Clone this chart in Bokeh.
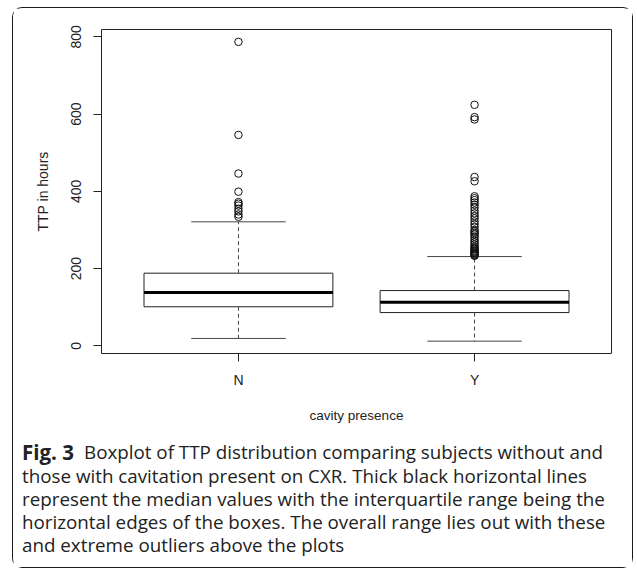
from bokeh.plotting import figure
from bokeh.models import Range1d, FixedTicker
from bokeh.core.properties import value
from bokeh.embed import file_html
from bokeh.resources import INLINE

# ---- data ----
categories = ["N", "Y"]
lower_whisker = [19, 12]
q1 = [101, 86]
median = [138, 113]
q3 = [188, 143]
upper_whisker = [321, 231]
outliers_N = [787, 546, 446, 399, 372, 368, 363, 355, 348, 340, 334]
outliers_Y = [624, 592, 586, 437, 426, 387, 382, 377, 371, 365, 358, 350, 343,
              336, 330, 322, 315, 308, 300, 296, 292, 288, 283, 278, 272, 268,
              263, 258, 255, 252, 249, 246, 244, 242, 240, 238, 236, 234, 233]
y_ticks = [0, 200, 400, 600, 800]
caption_bold = "Fig. 3"
caption_lines = [
    "Boxplot of TTP distribution comparing subjects without and",
    "those with cavitation present on CXR. Thick black horizontal lines",
    "represent the median values with the interquartile range being the",
    "horizontal edges of the boxes. The overall range lies out with these",
    "and extreme outliers above the plots",
]

W = 621
H1 = 420
H2 = 141
col = "#222222"
font = "Liberation Sans"
border = "1.5px solid #1a1a1a"

p = figure(width=W, height=H1, output_backend="svg", toolbar_location=None,
           x_range=Range1d(0.42, 2.58), y_range=Range1d(-20, 819),
           min_border_left=88, min_border_right=23, min_border_top=21,
           min_border_bottom=75)
p.styles = {"margin-left": "12px", "margin-top": "7px", "border": border,
            "border-bottom": "0px", "border-radius": "10px 10px 0 0"}
p.background_fill_color = "white"
p.border_fill_color = "white"
p.outline_line_color = col
p.outline_line_width = 1
p.xgrid.visible = False
p.ygrid.visible = False

xs = [i + 1 for i in range(len(categories))]
half = 0.4
staple = 0.2

p.quad(left=[x - half for x in xs], right=[x + half for x in xs], bottom=q1, top=q3,
       fill_color="white", line_color=col, line_width=1)
p.segment(x0=[x - half for x in xs], x1=[x + half for x in xs], y0=median, y1=median,
          line_color="black", line_width=3)
p.segment(x0=xs, x1=xs, y0=q3, y1=upper_whisker, line_color="#444444", line_width=1,
          line_dash="4 3")
p.segment(x0=xs, x1=xs, y0=q1, y1=lower_whisker, line_color="#444444", line_width=1,
          line_dash="4 3")
p.segment(x0=[x - staple for x in xs], x1=[x + staple for x in xs], y0=upper_whisker,
          y1=upper_whisker, line_color="#444444", line_width=1)
p.segment(x0=[x - staple for x in xs], x1=[x + staple for x in xs], y0=lower_whisker,
          y1=lower_whisker, line_color="#444444", line_width=1)
p.scatter(x=[xs[0]] * len(outliers_N), y=outliers_N, marker="circle", size=7.5,
          fill_color=None, line_color="#111111", line_width=1)
p.scatter(x=[xs[1]] * len(outliers_Y), y=outliers_Y, marker="circle", size=7.5,
          fill_color=None, line_color="#111111", line_width=1)

# y axis
ya = p.yaxis[0]
ya.ticker = FixedTicker(ticks=y_ticks)
ya.minor_tick_line_color = None
ya.major_tick_in = 0
ya.major_tick_out = 8
ya.major_tick_line_color = col
ya.axis_line_color = None
ya.major_label_orientation = "vertical"
ya.major_label_text_font = font
ya.major_label_text_font_size = "14px"
ya.major_label_text_color = col
ya.major_label_standoff = 12
ya.axis_label = "TTP in hours"
ya.axis_label_text_font = font
ya.axis_label_text_font_style = "normal"
ya.axis_label_text_font_size = "14px"
ya.axis_label_text_color = col
ya.axis_label_standoff = 18

# x axis
xa = p.xaxis[0]
xa.ticker = FixedTicker(ticks=xs)
xa.major_label_overrides = {x: c for x, c in zip(xs, categories)}
xa.minor_tick_line_color = None
xa.major_tick_in = 0
xa.major_tick_out = 8
xa.major_tick_line_color = col
xa.axis_line_color = None
xa.major_label_text_font = font
xa.major_label_text_font_size = "14px"
xa.major_label_text_color = col
xa.major_label_standoff = 10
xa.axis_label = "cavity presence"
xa.axis_label_text_font = font
xa.axis_label_text_font_style = "normal"
xa.axis_label_text_font_size = "13.5px"
xa.axis_label_text_color = col
xa.axis_label_standoff = 17

# caption panel (separate root, so its frame is not aligned with the chart's)
c = figure(width=W, height=H2, output_backend="svg", toolbar_location=None,
           x_range=Range1d(0, W), y_range=Range1d(H2, 0),
           x_axis_location=None, y_axis_location=None,
           min_border_left=0, min_border_right=0, min_border_top=0, min_border_bottom=0)
c.styles = {"margin-left": "12px", "border": border, "border-top": "0px",
            "border-radius": "0 0 10px 10px"}
c.grid.visible = False
c.outline_line_color = None
c.background_fill_color = "white"
c.border_fill_color = "white"

cap_font = value("Open Sans")
cap_size = value("18.8px")
line_y = [24.5, 48, 71, 94, 117]
line_x = [70.5, 8.5, 8.5, 8.5, 8.5]
c.text(x=[8.5], y=[line_y[0]], text=[caption_bold], text_font=cap_font,
       text_font_size=value("20.5px"), text_font_style="bold", text_color=col,
       text_baseline="alphabetic")
c.text(x=line_x, y=line_y, text=caption_lines, text_font=cap_font,
       text_font_size=cap_size, text_color=col, text_baseline="alphabetic")

open("out.html", "w").write(file_html([p, c], INLINE))
